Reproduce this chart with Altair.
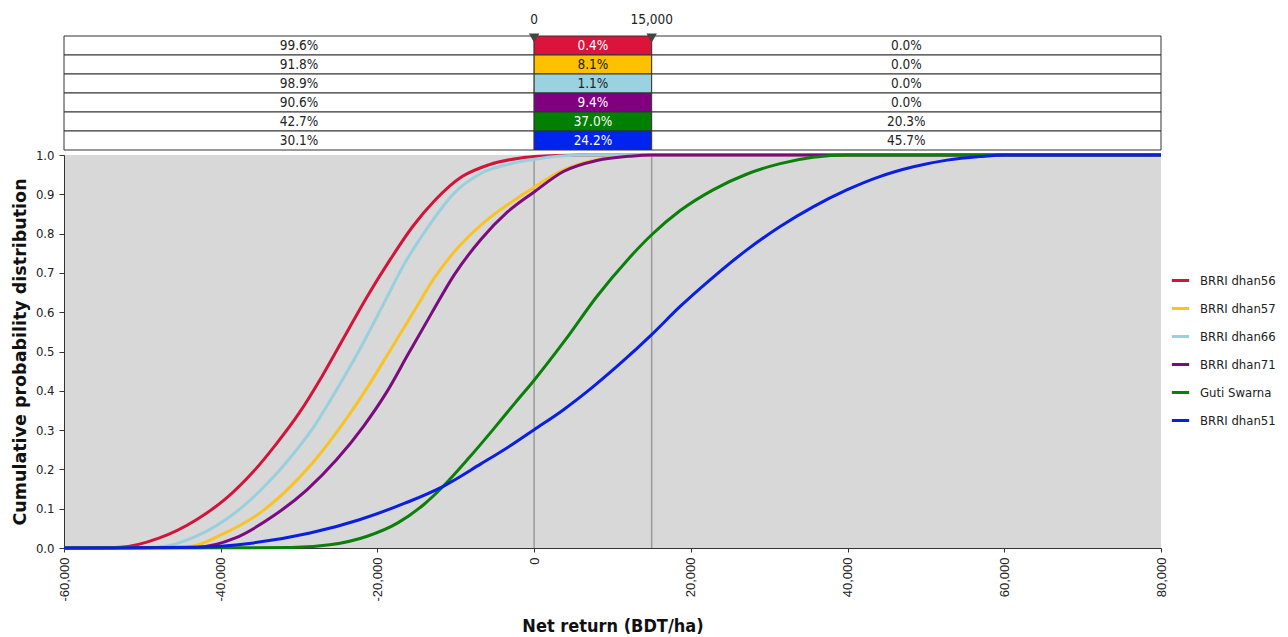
import altair as alt
import pandas as pd

varieties = ["BRRI dhan56", "BRRI dhan57", "BRRI dhan66", "BRRI dhan71", "Guti Swarna", "BRRI dhan51"]
line_colors = ["#D2143A", "#F7C325", "#9ACFDD", "#7B0C7E", "#0A7F0A", "#0A1FE0"]
cell_colors = ["#DC143C", "#FFC000", "#9BD2E0", "#800080", "#008000", "#0024F0"]
cell_text_colors = ["white", "#222222", "#222222", "white", "white", "white"]

# risk table: share below 0, between 0 and 15,000, above 15,000
pct_below = ["99.6%", "91.8%", "98.9%", "90.6%", "42.7%", "30.1%"]
pct_between = ["0.4%", "8.1%", "1.1%", "9.4%", "37.0%", "24.2%"]
pct_above = ["0.0%", "0.0%", "0.0%", "0.0%", "20.3%", "45.7%"]

thresholds = [0, 15000]
threshold_labels = ["0", "15,000"]
x_min, x_max = -60000, 80000

# cumulative distribution curves
x_56 = [-60000, -52800, -47900, -43100, -39200, -35800, -32900, -30000, -27100, -24200, -21300, -18400, -15500, -12600, -9200, -5800, -1900, 0, 3000, 6000, 80000]
y_56 = [0, 0.002, 0.025, 0.072, 0.128, 0.195, 0.265, 0.343, 0.436, 0.538, 0.640, 0.733, 0.818, 0.886, 0.945, 0.975, 0.992, 0.996, 0.999, 1.0, 1.0]

x_57 = [-60000, -44500, -39700, -34800, -31000, -27100, -24200, -21300, -18400, -15500, -12600, -9700, -6300, -2900, 0, 3740, 8000, 12250, 15000, 80000]
y_57 = [0, 0.002, 0.036, 0.092, 0.158, 0.245, 0.322, 0.408, 0.502, 0.597, 0.691, 0.765, 0.830, 0.880, 0.918, 0.962, 0.988, 0.998, 1.0, 1.0]

x_66 = [-60000, -48000, -43100, -38200, -34400, -31000, -28100, -25200, -22300, -19400, -16500, -13500, -10200, -6800, -2900, 0, 3000, 7000, 80000]
y_66 = [0, 0.002, 0.03, 0.089, 0.157, 0.233, 0.309, 0.403, 0.504, 0.614, 0.725, 0.818, 0.903, 0.953, 0.978, 0.989, 0.997, 1.0, 1.0]

x_71 = [-60000, -43000, -38200, -33400, -29000, -25200, -21800, -18900, -16000, -13100, -10200, -6800, -3400, 0, 3740, 8000, 12250, 15000, 80000]
y_71 = [0, 0.002, 0.025, 0.08, 0.148, 0.225, 0.309, 0.394, 0.496, 0.597, 0.695, 0.785, 0.855, 0.906, 0.958, 0.986, 0.997, 1.0, 1.0]

x_guti = [-60000, -31000, -26100, -21300, -17400, -14000, -11600, -8200, -5300, -2400, 0, 4000, 8000, 12000, 15000, 18600, 22900, 27100, 31400, 35600, 40000, 80000]
y_guti = [0, 0.001, 0.008, 0.03, 0.064, 0.112, 0.157, 0.232, 0.300, 0.370, 0.427, 0.530, 0.640, 0.735, 0.797, 0.858, 0.912, 0.951, 0.978, 0.994, 1.0, 1.0]

x_51 = [-60000, -45000, -35800, -28600, -22300, -16500, -11600, -6800, -2900, 0, 3750, 7500, 11250, 15000, 18600, 22900, 27100, 31400, 35600, 39900, 44100, 48400, 52700, 56900, 60000, 80000]
y_51 = [0, 0.001, 0.013, 0.038, 0.072, 0.114, 0.157, 0.214, 0.262, 0.301, 0.352, 0.410, 0.474, 0.543, 0.614, 0.69, 0.758, 0.818, 0.868, 0.911, 0.945, 0.97, 0.987, 0.996, 1.0, 1.0]

series_x = [x_56, x_57, x_66, x_71, x_guti, x_51]
series_y = [y_56, y_57, y_66, y_71, y_guti, y_51]

line_rows = []
for name, xs, ys in zip(varieties, series_x, series_y):
    for xv, yv in zip(xs, ys):
        line_rows.append({"variety": name, "x": xv, "y": yv})
line_df = pd.DataFrame(line_rows)

cell_rows = []
text_rows = []
for i, name in enumerate(varieties):
    spans = [(x_min, thresholds[0], pct_below[i], "white", "#222222"),
             (thresholds[0], thresholds[1], pct_between[i], cell_colors[i], cell_text_colors[i]),
             (thresholds[1], x_max, pct_above[i], "white", "#222222")]
    for a, b, lab, fill, tcol in spans:
        cell_rows.append({"variety": name, "x": a, "x2": b, "fill": fill})
        text_rows.append({"variety": name, "x": (a + b) / 2, "label": lab, "tcolor": tcol})
cell_df = pd.DataFrame(cell_rows)
text_df = pd.DataFrame(text_rows)
thr_df = pd.DataFrame({"x": thresholds, "label": threshold_labels})

FONT = "DejaVu Sans Condensed"

xscale = alt.Scale(domain=[x_min, x_max], nice=False, zero=False)
xaxis = alt.Axis(values=list(range(-60000, 80001, 20000)),
                 labelExpr="replace(format(datum.value, ',.0f'), '\u2212', '-')",
                 labelAngle=-90,
                 labelFont="Liberation Sans", labelFontSize=13, labelColor="#222222",
                 domainColor="#333333", tickColor="#333333", tickSize=4, grid=False,
                 titleFont=FONT, titleFontSize=18, titleFontWeight="bold", titleColor="#111111",
                 titlePadding=16, labelPadding=5)
xenc = alt.X("x:Q", scale=xscale, axis=xaxis, title="Net return (BDT/ha)")

row_y = alt.Y("variety:N", sort=varieties, axis=None,
              scale=alt.Scale(domain=varieties, range=[-119, -5], paddingInner=0, paddingOuter=0))

rules = alt.Chart(thr_df).mark_rule(color="#9a9a9a", strokeWidth=1.5).encode(x=xenc)

lines = alt.Chart(line_df).mark_line(strokeWidth=3, interpolate="monotone").encode(
    x=xenc,
    y=alt.Y("y:Q", scale=alt.Scale(domain=[0, 1], nice=False),
            axis=alt.Axis(values=[i / 10 for i in range(11)], format=".1f", grid=False,
                          labelFont=FONT, labelFontSize=13, labelColor="#222222",
                          domainColor="#333333", tickColor="#333333", tickSize=5, labelPadding=5,
                          titleFont="DejaVu Sans", titleFontSize=17.5, titleFontWeight="bold",
                          titleColor="#111111", titlePadding=6),
            title="Cumulative probability distribution"),
    color=alt.Color("variety:N", sort=varieties,
                    scale=alt.Scale(domain=varieties, range=line_colors),
                    legend=alt.Legend(title=None, orient="none", legendX=1106, legendY=115,
                                      symbolType="stroke", symbolStrokeWidth=3, symbolSize=300,
                                      labelFont=FONT, labelFontSize=13, labelColor="#222222",
                                      rowPadding=10, labelOffset=9)),
    detail="variety:N",
)

cells = alt.Chart(cell_df).mark_rect(stroke="#333333", strokeWidth=1).encode(
    x=xenc, x2=alt.X2("x2:Q"), y=row_y, fill=alt.Fill("fill:N", scale=None))

cell_text = alt.Chart(text_df).mark_text(font=FONT, fontSize=13.5).encode(
    x=xenc, y=row_y, text="label:N", color=alt.Color("tcolor:N", scale=None))

markers = alt.Chart(thr_df).mark_point(shape="triangle-down", filled=True, size=110,
                                       color="#444444", opacity=1).encode(x=xenc, y=alt.value(-117))
marker_text = alt.Chart(thr_df).mark_text(font=FONT, fontSize=13.5, color="#222222").encode(
    x=xenc, y=alt.value(-135), text="label:N")

chart = alt.layer(rules, lines, cells, cell_text, markers, marker_text).resolve_scale(
    y="independent", color="independent"
).properties(
    width=1097, height=393,
    view=alt.ViewBackground(fill="#d8d8d8", stroke=None),
    padding={"left": 11, "top": 13, "right": 0, "bottom": 0},
).configure_view(stroke=None).configure(background="white")

chart.save("out.html", embed_options={"renderer": "svg", "actions": False})
